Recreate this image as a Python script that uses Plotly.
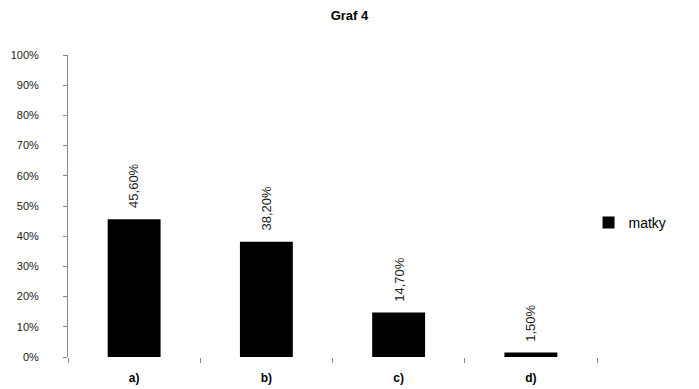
import plotly.graph_objects as go

categories = ["a)", "b)", "c)", "d)"]
values = [0.456, 0.382, 0.147, 0.015]
value_labels = ["45,60%", "38,20%", "14,70%", "1,50%"]
y_ticks = [0, 0.1, 0.2, 0.3, 0.4, 0.5, 0.6, 0.7, 0.8, 0.9, 1.0]
y_tick_labels = ["0%", "10%", "20%", "30%", "40%", "50%", "60%", "70%", "80%", "90%", "100%"]

fig = go.Figure()
fig.add_trace(go.Bar(
    x=categories, y=values, name="matky",
    marker=dict(color="black", line=dict(width=0)),
    width=0.4, showlegend=True,
))

for c, v, t in zip(categories, values, value_labels):
    fig.add_annotation(x=c, y=v, text=t, textangle=-90, showarrow=False,
                       xanchor="center", yanchor="bottom", yshift=9,
                       font=dict(family="Arial", size=13, color="#222"))

fig.update_layout(
    width=699, height=389,
    margin=dict(l=68, r=102, t=55, b=32),
    paper_bgcolor="white", plot_bgcolor="white",
    title=dict(text="<b>Graf 4</b>", x=0.5, xanchor="center", xref="container",
               y=1 - 15 / 389, yref="container", yanchor="middle",
               font=dict(family="Arial", size=13, color="black")),
    legend=dict(x=0.984, y=0.444, xanchor="left", yanchor="middle",
                font=dict(family="Arial", size=14, color="black"),
                itemwidth=30, bgcolor="rgba(0,0,0,0)"),
    font=dict(family="Arial", size=11, color="black"),
)
fig.update_xaxes(showline=False, showgrid=False, ticks="outside", tickson="boundaries",
                 ticklen=5, tickcolor="#888", tickwidth=1, automargin=False,
                 tickfont=dict(family="Arial", size=12, color="black", weight="bold"),
                 ticklabelstandoff=12)
fig.update_yaxes(range=[0, 1], tickvals=y_ticks, ticktext=y_tick_labels,
                 showline=True, linecolor="#888", linewidth=1, automargin=False,
                 ticks="outside", ticklen=4, tickcolor="#888",
                 showgrid=False, zeroline=False, ticklabelstandoff=22,
                 tickfont=dict(family="Arial", size=11, color="#222"))

fig.write_html("out.html", post_script="document.body.style.margin='0';",
               config={"displayModeBar": False})
